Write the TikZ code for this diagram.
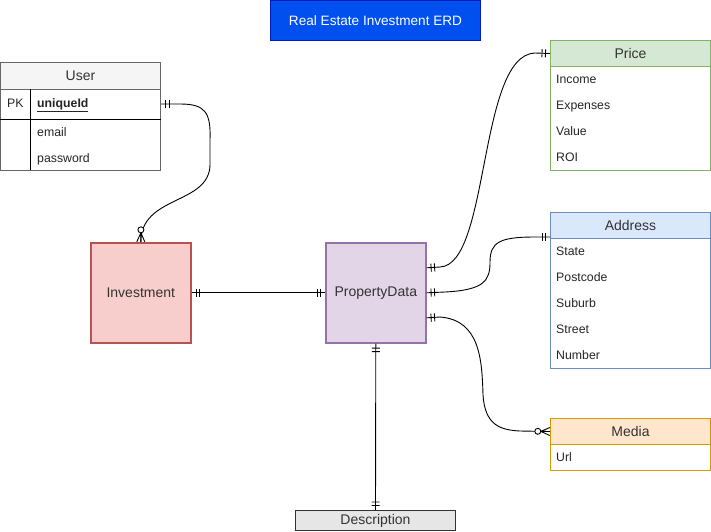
\documentclass[tikz,border=0pt]{standalone}
\usepackage{fontspec}
\setmainfont{Liberation Sans}
\usetikzlibrary{decorations.markings}
\definecolor{titlefill}{HTML}{0050EF}
\definecolor{titledraw}{HTML}{001DBC}
\definecolor{userhead}{HTML}{F5F5F5}
\definecolor{usergray}{HTML}{666666}
\definecolor{invfill}{HTML}{F8CECC}
\definecolor{invdraw}{HTML}{B85450}
\definecolor{pdfill}{HTML}{E1D5E7}
\definecolor{pddraw}{HTML}{9673A6}
\definecolor{gfill}{HTML}{D5E8D4}
\definecolor{gdraw}{HTML}{82B366}
\definecolor{bfill}{HTML}{DAE8FC}
\definecolor{bdraw}{HTML}{6C8EBF}
\definecolor{ofill}{HTML}{FFE6CC}
\definecolor{odraw}{HTML}{D79B00}
\definecolor{descfill}{HTML}{E6E6E6}
\definecolor{txt}{HTML}{333333}
\begin{document}
\begin{tikzpicture}[x=1pt,y=-1pt,
  box/.style={draw, line width=1pt, inner sep=0pt, anchor=north west},
  entity/.style={box, line width=1.6pt, minimum width=100pt, minimum height=100pt, font=\fontsize{14}{16}\selectfont, text=txt},
  head/.style={box, minimum width=160pt, minimum height=26pt, font=\fontsize{14}{16}\selectfont, text=txt},
  item/.style={anchor=base west, inner sep=0pt, font=\fontsize{12.3}{14}\selectfont, text=black!85},
  conn/.style={draw=black, line width=0.9pt},
  startone/.style={postaction={decorate,decoration={markings,
     mark=at position 4.5pt with {\draw[line width=0.9pt] (0,-4pt)--(0,4pt);},
     mark=at position 8pt with {\draw[line width=0.9pt] (0,-4pt)--(0,4pt);}}}},
  endone/.style={postaction={decorate,decoration={markings,
     mark=at position -4.5pt with {\draw[line width=0.9pt] (0,-4pt)--(0,4pt);},
     mark=at position -8pt with {\draw[line width=0.9pt] (0,-4pt)--(0,4pt);}}}},
  endmany/.style={postaction={decorate,decoration={markings,
     mark=at position -0.2pt with {\draw[line width=0.9pt] (-9pt,0)--(0,-4pt) (-9pt,0)--(0,0) (-9pt,0)--(0,4pt);
        \draw[line width=0.9pt, fill=white] (-12pt,0) circle (3pt);}}}}
]
\useasboundingbox (0,0) rectangle (711,531);
\fill[white] (0,0) rectangle (711,531);

% title
\node[box, fill=titlefill, draw=titledraw, minimum width=210pt, minimum height=40pt, text=white,
  font=\fontsize{13.6}{15}\selectfont] (title) at (270,0) {Real Estate Investment ERD};

% User table
\node[box, draw=usergray, minimum width=160pt, minimum height=108pt] (userbody) at (0,62) {};
\node[head, fill=userhead, draw=usergray, minimum height=27pt] (user) at (0,62) {User};
\node[box, draw=none, minimum width=160pt, minimum height=29pt] (uid) at (0,89) {};
\draw[black, line width=1pt] (uid.south west) -- (uid.south east);
\draw[black, line width=1pt] (30,89) -- (30,170);
\node[item] (pk) at (7,107.5) {PK};
\node[item, font=\fontsize{12.3}{14}\selectfont\bfseries] (uidtxt) at (37,107.5) {\underline{uniqueId}};
\node[item] (email) at (37,136.5) {email};
\node[item] (pw) at (37,162.5) {password};

% entities
\node[entity, fill=invfill, draw=invdraw] (inv) at (90,242) {Investment};
\node[entity, fill=pdfill, draw=pddraw] (pd) at (325,242) {PropertyData};

% Price
\node[box, draw=gdraw, minimum width=160pt, minimum height=130pt] (pricebody) at (550,40) {};
\node[head, fill=gfill, draw=gdraw] (price) at (550,40) {Price};
\node[item] (p1) at (556,83.5) {Income};
\node[item] (p2) at (556,109.5) {Expenses};
\node[item] (p3) at (556,135.5) {Value};
\node[item] (p4) at (556,161.5) {ROI};

% Address
\node[box, draw=bdraw, minimum width=160pt, minimum height=156pt] (addrbody) at (550,212) {};
\node[head, fill=bfill, draw=bdraw] (addr) at (550,212) {Address};
\node[item] (a1) at (556,255.5) {State};
\node[item] (a2) at (556,281.5) {Postcode};
\node[item] (a3) at (556,307.5) {Suburb};
\node[item] (a4) at (556,333.5) {Street};
\node[item] (a5) at (556,359.5) {Number};

% Media
\node[box, draw=odraw, minimum width=160pt, minimum height=52pt] (mediabody) at (550,418) {};
\node[head, fill=ofill, draw=odraw] (media) at (550,418) {Media};
\node[item] (m1) at (556,461.5) {Url};

% Description
\node[box, fill=descfill, draw=black!80, minimum width=160pt, minimum height=20pt,
  font=\fontsize{14}{16}\selectfont, text=txt] (desc) at (295,510) {Description};

% connectors
\draw[conn, startone, endmany] (uid.east) -- (180,104) .. controls (205,104) and (211,112) .. (210,140)
   -- (210,165) .. controls (209,205) and (141,195) .. (inv.north);
\draw[conn, startone, endone] (inv.east) -- (pd.west);
\draw[conn, startone, endone] ([yshift=25pt]pd.east) -- (440,267) .. controls (490,265) and (478,55) .. (535,53) -- (price.west);
\draw[conn, startone, endone] (pd.east) -- (445,292) .. controls (485,290) and (490,280) .. (490,262)
   .. controls (490,242) and (500,237) .. (535,237) -- (550,237);
\draw[conn, startone, endmany] ([yshift=-25pt]pd.east) -- (440,317) .. controls (480,320) and (482,360) .. (483,395)
   .. controls (485,425) and (500,430) .. (520,431) -- (media.west);
\draw[conn, startone, endone] (pd.south) -- (desc.north);
\end{tikzpicture}
\end{document}
